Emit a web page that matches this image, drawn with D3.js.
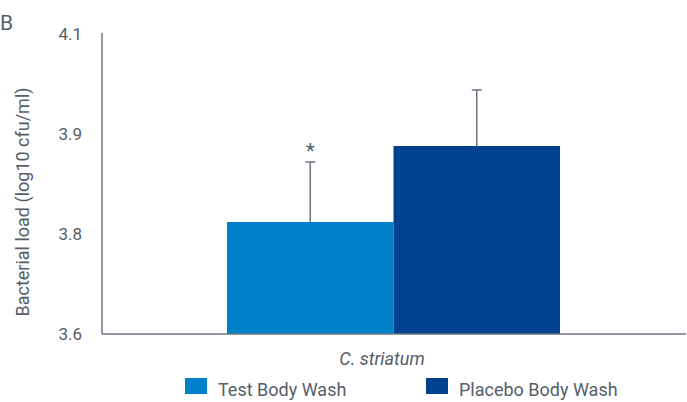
<!DOCTYPE html>
<html><head><meta charset="utf-8">
<script src="https://cdn.jsdelivr.net/npm/d3@7"></script>
<style>body{margin:0;background:#fff}svg{display:block;font-family:Roboto,sans-serif}</style>
</head><body>
<svg id="c" width="687" height="402"></svg>
<script>
const categories = ["C. striatum"];
const seriesNames = ["Test Body Wash", "Placebo Body Wash"];
const seriesValues = [3.768, 3.882];
const seriesErrors = [0.090, 0.084];
const seriesColors = ["#0080c8", "#004190"];
const significance = ["*", ""];
const yTicks = [3.6, 3.75, 3.9, 4.05];

const svg = d3.select("#c");
const textColor = "#555e68", axisColor = "#6b7580";
const m = {l:102, r:686, t:34, b:334};

const y = d3.scaleLinear().domain([3.6, 4.05]).range([m.b, m.t]);
const x0 = d3.scaleBand().domain(categories).range([m.l, m.r]);
const x1 = d3.scaleBand().domain(seriesNames).range([x0(categories[0]) + 125, x0(categories[0]) + x0.bandwidth() - 126]);

// y axis
const fmt = d => (Math.round(d * 10 + 1e-6) / 10).toFixed(1);
const yAxis = d3.axisLeft(y).tickValues(yTicks).tickSize(0).tickPadding(20).tickFormat(fmt);
const gy = svg.append("g").attr("transform", `translate(${m.l},0)`).call(yAxis);
gy.select(".domain").remove();
gy.selectAll("text").attr("fill", textColor).style("font-size", "17px").style("font-family", "Roboto");

// bars
const g = svg.append("g");
seriesNames.forEach((s, i) => {
  const cx = x1(s);
  g.append("rect").attr("x", cx).attr("y", y(seriesValues[i]))
    .attr("width", x1.bandwidth()).attr("height", y(3.6) - y(seriesValues[i]))
    .attr("fill", seriesColors[i]);
  const mx = cx + x1.bandwidth() / 2;
  const top = y(seriesValues[i] + seriesErrors[i]);
  g.append("line").attr("x1", mx).attr("x2", mx).attr("y1", y(seriesValues[i])).attr("y2", top)
    .attr("stroke", axisColor).attr("stroke-width", 1.5);
  g.append("line").attr("x1", mx - 5).attr("x2", mx + 5).attr("y1", top).attr("y2", top)
    .attr("stroke", axisColor).attr("stroke-width", 1.5);
  if (significance[i]) {
    g.append("text").attr("x", mx).attr("y", top - 4).attr("text-anchor", "middle")
      .attr("fill", textColor).style("font-size", "21px").text(significance[i]);
  }
});

// axis lines
svg.append("line").attr("x1", m.l).attr("x2", m.l).attr("y1", 33).attr("y2", m.b)
  .attr("stroke", axisColor).attr("stroke-width", 1.5);
svg.append("line").attr("x1", m.l).attr("x2", m.r).attr("y1", m.b).attr("y2", m.b)
  .attr("stroke", axisColor).attr("stroke-width", 1.5);

// category label
svg.append("text").attr("x", 382).attr("y", 365).attr("text-anchor", "middle")
  .attr("fill", textColor).style("font-size", "18px").style("font-style", "italic").text(categories[0]);

// y label
svg.append("text").attr("transform", "translate(29,202) rotate(-90)").attr("text-anchor", "middle")
  .attr("fill", textColor).style("font-size", "18px").text("Bacterial load (log10 cfu/ml)");

// panel letter
svg.append("text").attr("x", 0).attr("y", 30).attr("fill", textColor).style("font-size", "21px").text("B");

// legend
const legX = [185, 426];
seriesNames.forEach((s, i) => {
  svg.append("rect").attr("x", legX[i]).attr("y", 378).attr("width", 22).attr("height", 16).attr("fill", seriesColors[i]);
  svg.append("text").attr("x", legX[i] + 33).attr("y", 396).attr("fill", textColor).style("font-size", "18px").text(s);
});
</script>
</body></html>
